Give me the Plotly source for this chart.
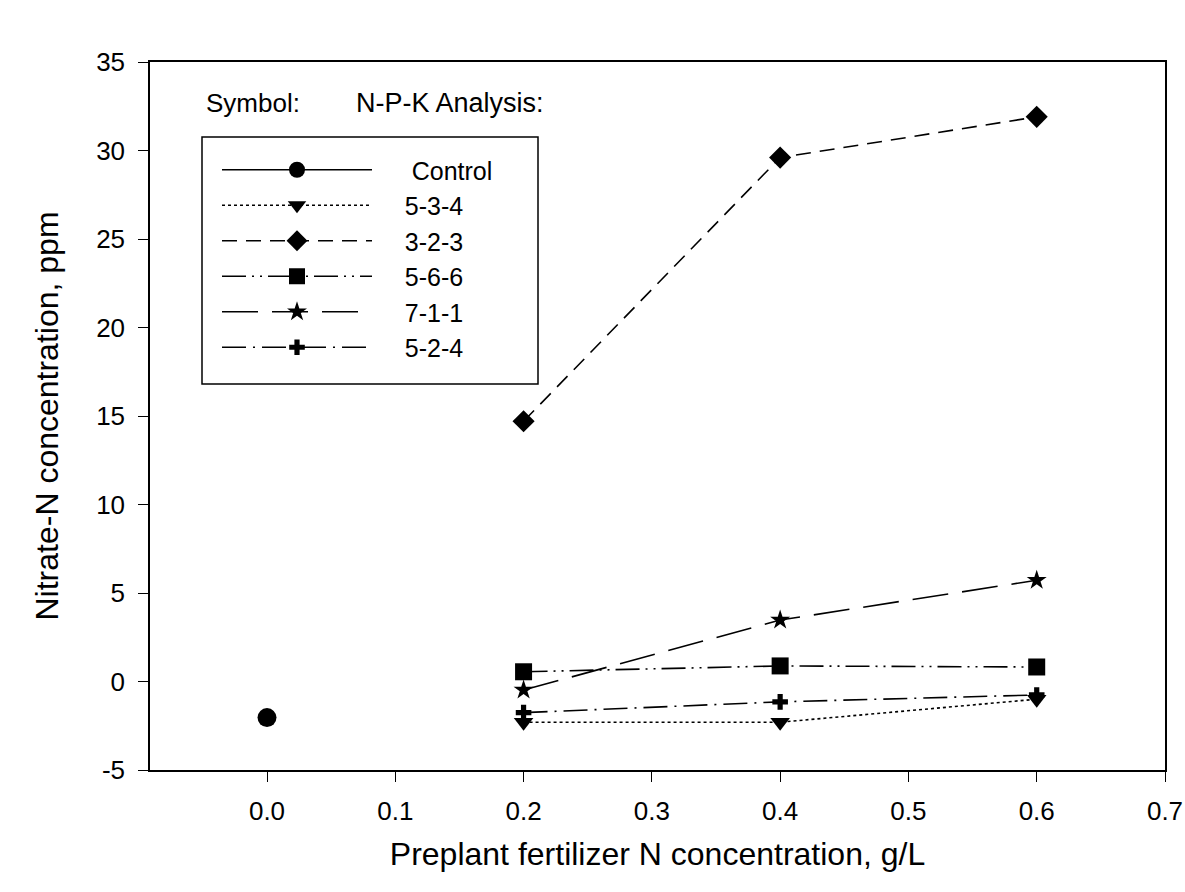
import plotly.graph_objects as go

# ---- data ----
control_x = [0.0]
control_y = [-2.04]

conc_x = [0.2, 0.4, 0.6]
npk_534 = [-2.3, -2.3, -1.0]
npk_323 = [14.7, 29.6, 31.9]
npk_566 = [0.55, 0.88, 0.82]
npk_711 = [-0.48, 3.47, 5.72]
npk_524 = [-1.76, -1.15, -0.76]

x_ticks = [0.0, 0.1, 0.2, 0.3, 0.4, 0.5, 0.6, 0.7]
x_tick_labels = ["0.0", "0.1", "0.2", "0.3", "0.4", "0.5", "0.6", "0.7"]
y_ticks = [-5, 0, 5, 10, 15, 20, 25, 30, 35]
y_tick_labels = ["-5", "0", "5", "10", "15", "20", "25", "30", "35"]

FONT = "Liberation Sans, Arial, sans-serif"
NB = "&nbsp;"

series = [
    ("Control", control_x, control_y, "solid", "circle", 19, 5),
    ("5-3-4", conc_x, npk_534, "dot", "triangle-down", 17, 4),
    ("3-2-3", conc_x, npk_323, "15px,9px", "diamond", 17, 4),
    ("5-6-6", conc_x, npk_566, "24px,6px,2px,6px,2px,6px", "square", 17, 4),
    ("7-1-1", conc_x, npk_711, "36px,14px", "star", 15, 4),
    ("5-2-4", conc_x, npk_524, "24px,7px,2px,7px", "cross", 13, 4),
]

fig = go.Figure()
for name, xs, ys, dash, sym, size, pad in series:
    fig.add_trace(go.Scatter(
        x=xs, y=ys, name=NB * pad + name, mode="lines+markers",
        line=dict(color="black", width=1.6, dash=dash),
        marker=dict(symbol=sym, size=size, color="black"),
    ))

plot_l, plot_r, plot_t, plot_b = 150, 1165, 62, 770
plot_w, plot_h = plot_r - plot_l, plot_b - plot_t


def px(x):
    return (x - plot_l) / plot_w


def py(y):
    return (plot_b - y) / plot_h


fig.update_layout(
    width=1185, height=892,
    paper_bgcolor="white", plot_bgcolor="white",
    margin=dict(l=plot_l, r=1185 - plot_r, t=plot_t, b=892 - plot_b),
    font=dict(family=FONT, color="black", size=26),
    showlegend=True,
    legend=dict(
        x=px(217), y=py(147), xanchor="left", yanchor="top",
        borderwidth=0, bgcolor="rgba(0,0,0,0)",
        font=dict(size=25, family=FONT, color="black"),
        itemwidth=150,
    ),
    xaxis=dict(
        range=[-0.0912, 0.7], tickvals=x_ticks, ticktext=x_tick_labels,
        showgrid=False, zeroline=False, showline=True, mirror=True,
        linecolor="black", linewidth=1.5, ticks="outside", ticklen=10,
        tickwidth=1.2, tickcolor="black", tickfont=dict(size=26),
        ticklabelstandoff=7, automargin=False,
        title=dict(text="Preplant fertilizer N concentration, g/L",
                   font=dict(size=32), standoff=18),
    ),
    yaxis=dict(
        range=[-5, 35], tickvals=y_ticks, ticktext=y_tick_labels,
        showgrid=False, zeroline=False, showline=True, mirror=True,
        linecolor="black", linewidth=1.5, ticks="outside", ticklen=10,
        tickwidth=1.2, tickcolor="black", tickfont=dict(size=26),
        ticklabelstandoff=8, automargin=False,
        title=dict(text="Nitrate-N concentration, ppm",
                   font=dict(size=32), standoff=28),
    ),
    shapes=[
        dict(type="rect", xref="paper", yref="paper",
             x0=px(202), x1=px(538), y0=py(384), y1=py(137),
             line=dict(color="black", width=1.5), fillcolor="rgba(0,0,0,0)"),
    ],
    annotations=[
        dict(text="Symbol:", x=px(204), y=py(103), xref="paper", yref="paper",
             xanchor="left", yanchor="middle", showarrow=False,
             font=dict(size=26)),
        dict(text="N-P-K Analysis:", x=px(354), y=py(103), xref="paper",
             yref="paper", xanchor="left", yanchor="middle", showarrow=False,
             font=dict(size=27)),
    ],
)

fig.write_html("out.html",
               config={"displayModeBar": False},
               post_script="document.body.style.margin='0';"
                           "document.body.style.overflow='hidden';")
